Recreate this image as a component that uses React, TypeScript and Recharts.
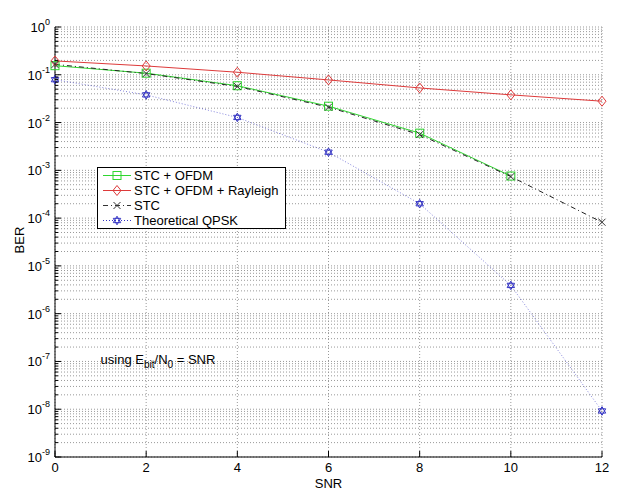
import React from "react";
import {
  LineChart,
  Line,
  XAxis,
  YAxis,
  CartesianGrid,
  Legend,
  ReferenceDot,
} from "recharts";

const snr = [0, 2, 4, 6, 8, 10, 12];
const stcOfdm = [0.155, 0.108, 0.059, 0.022, 0.006, 0.00076, null];
const stcOfdmRayleigh = [0.195, 0.153, 0.113, 0.078, 0.053, 0.038, 0.028];
const stc = [0.165, 0.106, 0.057, 0.021, 0.0056, 0.00074, 0.000082];
const theoreticalQpsk = [0.079, 0.038, 0.0128, 0.0024, 0.0002, 0.0000039, 9.2e-9];

const decades = [-9, -8, -7, -6, -5, -4, -3, -2, -1];
const mantissas = [1, 2, 3, 4, 5, 6, 7, 8, 9];
const yTicks = [...decades.flatMap((e) => mantissas.map((m) => Number(`${m}e${e}`))), 1];

const title = "QPSK STC OFDM 2 Tx & 2 Rx Antennas, (SampleRate 8, Bits 65536)";

const rows = snr.map((s, i) => ({
  snr: s,
  stcOfdm: stcOfdm[i],
  rayleigh: stcOfdmRayleigh[i],
  stc: stc[i],
  qpsk: theoreticalQpsk[i],
}));

const FONT = "Arial, 'Liberation Sans', sans-serif";
const GREEN = "#2fd62f";
const RED = "#dd3a3a";
const BLUE = "#3434c4";

const isMajor = (v: number) => {
  const e = Math.round(Math.log10(v));
  return Math.abs(v / Math.pow(10, e) - 1) < 1e-6;
};

const LeftTick = (p: any) => {
  const { x, y, payload } = p;
  const v = payload.value;
  const major = isMajor(v);
  const e = Math.round(Math.log10(v));
  return (
    <g>
      <line x1={x} x2={x + (major ? 6 : 3)} y1={y} y2={y} stroke="#000" />
      {major && (
        <text x={x - 5} y={y + 5} textAnchor="end" fontSize={13} fontFamily={FONT} fill="#000">
          10
          <tspan dy={-7} fontSize={9}>
            {e}
          </tspan>
        </text>
      )}
    </g>
  );
};

const RightTick = (p: any) => {
  const { x, y, payload } = p;
  const major = isMajor(payload.value);
  return <line x1={x} x2={x - (major ? 6 : 3)} y1={y} y2={y} stroke="#000" />;
};

const BottomTick = (p: any) => {
  const { x, y, payload } = p;
  return (
    <g>
      <line x1={x} x2={x} y1={y} y2={y - 6} stroke="#000" />
      <text x={x} y={y + 15} textAnchor="middle" fontSize={13} fontFamily={FONT} fill="#000">
        {payload.value}
      </text>
    </g>
  );
};

const TopTick = (p: any) => {
  const { x, y } = p;
  return <line x1={x} x2={x} y1={y} y2={y + 6} stroke="#000" />;
};

const Square = ({ cx, cy, c }: any) => (
  <rect x={cx - 4} y={cy - 4} width={8} height={8} fill="none" stroke={c} />
);
const Diamond = ({ cx, cy, c }: any) => (
  <polygon
    points={`${cx},${cy - 5} ${cx + 4},${cy} ${cx},${cy + 5} ${cx - 4},${cy}`}
    fill="none"
    stroke={c}
  />
);
const Cross = ({ cx, cy, c }: any) => (
  <path d={`M${cx - 3.5},${cy - 3.5}L${cx + 3.5},${cy + 3.5}M${cx - 3.5},${cy + 3.5}L${cx + 3.5},${cy - 3.5}`} stroke={c} />
);
const Hexagram = ({ cx, cy, c }: any) => {
  const r = 4.3;
  const tri = (a0: number) =>
    [0, 1, 2]
      .map((k) => {
        const a = a0 + (k * 2 * Math.PI) / 3;
        return `${cx + r * Math.cos(a)},${cy + r * Math.sin(a)}`;
      })
      .join(" ");
  return (
    <g fill="none" stroke={c}>
      <polygon points={tri(-Math.PI / 2)} />
      <polygon points={tri(Math.PI / 2)} />
    </g>
  );
};

const dotOf = (Shape: any, c: string) => (p: any) => {
  if (p.cx == null || p.cy == null || p.value == null) return <g key={p.key} />;
  return (
    <g key={p.key}>
      <Shape cx={p.cx} cy={p.cy} c={c} />
    </g>
  );
};

const legendItems = [
  { name: "STC + OFDM", color: GREEN, dash: undefined, Shape: Square },
  { name: "STC + OFDM + Rayleigh", color: RED, dash: undefined, Shape: Diamond },
  { name: "STC", color: "#333", dash: "5 3 1 3", Shape: Cross },
  { name: "Theoretical QPSK", color: BLUE, dash: "1 2", Shape: Hexagram },
];

const LegendBox = () => (
  <div
    style={{
      width: 187,
      height: 60,
      border: "1px solid #000",
      background: "#fff",
      fontFamily: FONT,
      fontSize: 13,
      boxSizing: "content-box",
    }}
  >
    {legendItems.map((it) => (
      <div key={it.name} style={{ display: "flex", alignItems: "center", height: 15, lineHeight: "15px" }}>
        <svg width={36} height={15} style={{ flex: "none" }}>
          <line x1={5} x2={33} y1={7.5} y2={7.5} stroke={it.color} strokeDasharray={it.dash} />
          <it.Shape cx={19} cy={7.5} c={it.color} />
        </svg>
        <span style={{ whiteSpace: "nowrap" }}>{it.name}</span>
      </div>
    ))}
  </div>
);

const BerLabel = (p: any) => {
  const vb = p.viewBox || { x: 0, y: 27, height: 430 };
  const x = vb.x + 19;
  const y = vb.y + vb.height / 2 - 2;
  return (
    <text
      x={x}
      y={y}
      transform={`rotate(-90 ${x} ${y})`}
      textAnchor="middle"
      dominantBaseline="central"
      fontSize={13}
      fontFamily={FONT}
      fill="#000"
    >
      BER
    </text>
  );
};

const Note = (p: any) => (
  <text x={p.cx} y={p.cy + 3} fontSize={13} fontFamily={FONT} fill="#000">
    using E
    <tspan dy={4} fontSize={10}>bit</tspan>
    <tspan dy={-4}>/N</tspan>
    <tspan dy={4} fontSize={10}>0</tspan>
    <tspan dy={-4}> = SNR</tspan>
  </text>
);

export default function App() {
  return (
    <div style={{ position: "absolute", left: 0, top: 0, width: 617, height: 493, background: "#fff" }}>
      <LineChart
        width={617}
        height={493}
        data={rows}
        margin={{ top: 27, right: 15, bottom: 0, left: 0 }}
      >
        <CartesianGrid
          xAxisId="b"
          yAxisId="l"
          stroke="#999"
          strokeDasharray="1 2"
          horizontalValues={yTicks}
          verticalValues={snr}
        />
        <XAxis
          xAxisId="b"
          dataKey="snr"
          type="number"
          domain={[0, 12]}
          ticks={snr}
          height={36}
          tickSize={0}
          tickMargin={0}
          tick={<BottomTick />}
          axisLine={{ stroke: "#000" }}
          tickLine={false}
          label={{ value: "SNR", position: "insideBottom", offset: 5, fontSize: 13, fontFamily: FONT, fill: "#000" }}
        />
        <XAxis
          xAxisId="t"
          orientation="top"
          dataKey="snr"
          type="number"
          domain={[0, 12]}
          ticks={snr}
          height={0}
          tickSize={0}
          tickMargin={0}
          tick={<TopTick />}
          axisLine={{ stroke: "#000" }}
          tickLine={false}
          label={{ value: title, position: "top", offset: 9, fontSize: 13, fontFamily: FONT, fill: "#000" }}
        />
        <YAxis
          yAxisId="l"
          type="number"
          scale="log"
          domain={[1e-9, 1]}
          allowDataOverflow
          ticks={yTicks}
          interval={0}
          width={55}
          tickSize={0}
          tickMargin={0}
          tick={<LeftTick />}
          axisLine={{ stroke: "#000" }}
          tickLine={false}
          label={<BerLabel />}
        />
        <YAxis
          yAxisId="r"
          orientation="right"
          type="number"
          scale="log"
          domain={[1e-9, 1]}
          allowDataOverflow
          ticks={yTicks}
          interval={0}
          width={0}
          tickSize={0}
          tickMargin={0}
          tick={<RightTick />}
          axisLine={{ stroke: "#000" }}
          tickLine={false}
        />
        <Line
          xAxisId="b"
          yAxisId="l"
          dataKey="stcOfdm"
          name="STC + OFDM"
          stroke={GREEN}
          strokeWidth={1}
          dot={dotOf(Square, GREEN)}
          isAnimationActive={false}
        />
        <Line
          xAxisId="b"
          yAxisId="l"
          dataKey="rayleigh"
          name="STC + OFDM + Rayleigh"
          stroke={RED}
          strokeWidth={1}
          dot={dotOf(Diamond, RED)}
          isAnimationActive={false}
        />
        <Line
          xAxisId="b"
          yAxisId="l"
          dataKey="stc"
          name="STC"
          stroke="#222"
          strokeWidth={1}
          strokeDasharray="5 3 1 3"
          dot={dotOf(Cross, "#333")}
          isAnimationActive={false}
        />
        <Line
          xAxisId="b"
          yAxisId="l"
          dataKey="qpsk"
          name="Theoretical QPSK"
          stroke={BLUE}
          strokeOpacity={0.6}
          strokeWidth={1}
          strokeDasharray="1 2"
          dot={dotOf(Hexagram, BLUE)}
          isAnimationActive={false}
        />
        <ReferenceDot xAxisId="b" yAxisId="l" x={1} y={1e-7} shape={<Note />} />
        <Legend
          layout="horizontal"
          verticalAlign="middle"
          align="center"
          content={<LegendBox />}
          wrapperStyle={{ position: "absolute", left: 97, top: 167, width: 189, height: 62 }}
        />
      </LineChart>
    </div>
  );
}
